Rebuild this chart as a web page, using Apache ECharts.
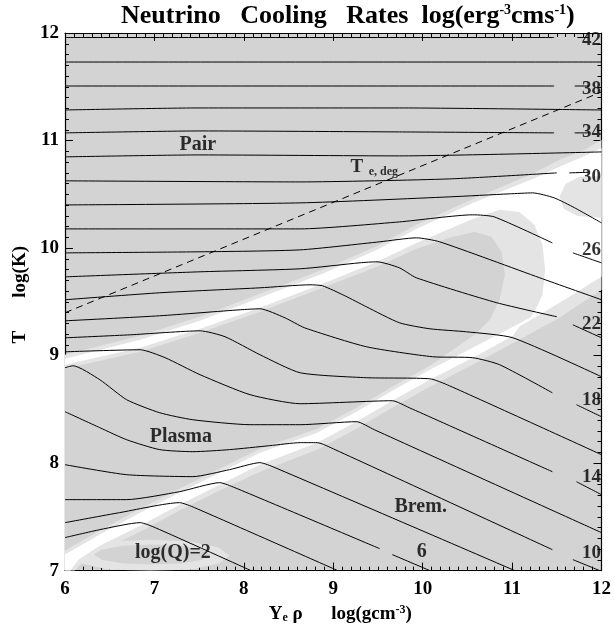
<!DOCTYPE html>
<html>
<head>
<meta charset="utf-8">
<script src="https://cdn.jsdelivr.net/npm/echarts@6/dist/echarts.min.js"></script>
<style>
html,body{margin:0;padding:0;background:#fff}
#chart{width:614px;height:629px}
</style>
</head>
<body>
<div id="chart"></div>
<script>
// Axis ranges: log(Ye*rho) and log(T)
const xRange = [6, 12];
const yRange = [7, 12];

// Contours of log(Q); null marks a break in the line (label gap)
const q42 = [[6,11.958],[11.47,11.958],null,[11.73,11.958],[11.86,11.958]];
const q40 = [[6,11.730],[12,11.730]];
const q38 = [[6,11.507],[11.47,11.507],null,[11.70,11.507],[11.86,11.507]];
const q36 = [[6,11.284],[7.51,11.303],[9.74,11.303],[12,11.284]];
const q34 = [[6,11.071],[7.51,11.089],[9.74,11.080],[11.47,11.071],null,[11.70,11.071],[11.86,11.071]];
const q32 = [[6,10.848],[7.51,10.866],[9.74,10.857],[12,10.894]];
const q30 = [[6,10.625],[8.63,10.615],[10.30,10.643],[11.50,10.699],null,[11.64,10.699],[11.86,10.705]];
const q28 = [[6,10.401],[8.63,10.420],[10.30,10.476],[10.97,10.504],[11.23,10.513],[11.47,10.467],[11.70,10.374],[12,10.234]];
const q26 = [[6,10.178],[8.63,10.178],[9.74,10.243],[10.56,10.309],[10.80,10.290],[11.45,10.048],null,[11.68,9.955],[12,9.862]];
const q24 = [[6,9.955],[7.51,9.965],[8.63,9.983],[9.52,10.058],[9.93,10.095],[10.19,10.058],[11.31,9.723],[12,9.519]];
const q22 = [[6,9.732],[7.51,9.779],[8.63,9.807],[9.30,9.863],[9.49,9.872],[9.74,9.816],[9.93,9.723],[10.83,9.491],[11.50,9.361],null,[11.68,9.286],[12,9.165]];
const q20 = [[6,9.519],[7.06,9.584],[8.18,9.630],[8.74,9.658],[8.88,9.649],[9.13,9.556],[9.37,9.454],[9.74,9.305],[10.08,9.249],[10.49,9.221],[11.01,9.165],[12,8.803]];
const q18 = [[6,9.323],[7.06,9.370],[7.96,9.426],[8.18,9.435],[8.46,9.351],[8.68,9.258],[9.37,9.082],[10.11,8.989],[10.56,8.980],[10.86,8.915],[11.45,8.654],null,[11.72,8.543],[12,8.431]];
const q16 = [[6,9.165],[6.73,9.193],[7.51,9.230],[7.79,9.175],[8.18,9.008],[8.63,8.840],[9.37,8.794],[10.08,8.784],[10.30,8.719],[12,8.078]];
const q14 = [[6,9.035],[6.84,9.054],[7.12,8.980],[7.51,8.822],[8.07,8.636],[8.63,8.552],[9.66,8.580],[9.85,8.515],[11.45,7.920],null,[11.72,7.827],[12,7.706]];
const q12 = [[6,8.887],[6.09,8.905],[6.39,8.775],[6.69,8.589],[7.06,8.468],[7.43,8.403],[8.07,8.357],[8.63,8.357],[9.26,8.385],[9.46,8.310],[12,7.353]];
const q10 = [[6,8.478],[6.39,8.329],[6.69,8.217],[7.06,8.125],[7.43,8.106],[7.84,8.125],[8.29,8.162],[8.63,8.190],[8.82,8.190],[9.02,8.125],[11.45,7.195],null,[11.68,7.102],[11.98,7.0]];
const q8  = [[6,7.985],[6.69,7.892],[7.43,7.874],[7.84,7.939],[8.18,8.004],[8.35,7.957],[11.03,7.0]];
const q6  = [[6,7.660],[6.69,7.660],[7.28,7.734],[7.73,7.818],[7.90,7.771],[9.52,7.204],null,[9.66,7.149],[10.08,7.0]];
const q4  = [[6,7.446],[6.61,7.539],[7.28,7.632],[7.45,7.585],[9.05,7.0]];
const q2  = [[6,7.307],[6.39,7.381],[6.84,7.446],[7.01,7.399],[8.08,7.0]];

// Electron degeneracy temperature
const tDeg = [[6,9.398],[12,11.452]];

// Shaded regions (process transition zones)
const haloOuter = [[6,9.007],[6.84,9.184],[7.51,9.361],[8.18,9.574],[8.88,9.797],[9.49,10.020],[9.93,10.216],[10.56,10.457],[11.23,10.690],[11.53,10.820],[11.81,10.913],[12,11.006],
  [12,9.612],[11.53,9.351],[11.08,9.147],[10.56,8.915],[10.08,8.710],[9.66,8.515],[9.26,8.320],[8.82,8.125],[8.18,7.920],[7.73,7.744],[7.28,7.558],[6.84,7.362],[6.39,7.177],[6.17,7.056],[6.11,7.0],[6,7.0]];
const cornerHalo = [[7.84,7.139],[7.72,7.214],[7.40,7.270],[6.95,7.288],[6.50,7.270],[6.18,7.214],[6.06,7.139],[6.18,7.065],[6.50,7.009],[6.95,7.0],[7.40,7.009],[7.72,7.065]];
const whiteBand = [[6,8.970],[6.84,9.147],[7.51,9.323],[8.18,9.537],[8.88,9.760],[9.49,9.983],[9.93,10.178],[10.56,10.420],[11.23,10.643],[11.53,10.755],[11.81,10.857],[12,10.931],
  [12,9.732],[11.53,9.491],[11.08,9.268],[11.01,9.184],[10.56,8.980],[10.08,8.775],[9.66,8.580],[9.26,8.385],[8.82,8.190],[8.18,7.985],[7.73,7.799],[7.28,7.613],[6.84,7.418],[6.39,7.232],[6.15,7.102],[6.06,7.0],[6,7.0]];
const cornerCore = [[7.62,7.149],[7.53,7.195],[7.30,7.232],[6.97,7.242],[6.65,7.232],[6.41,7.195],[6.32,7.149],[6.41,7.102],[6.65,7.065],[6.97,7.056],[7.30,7.065],[7.53,7.102]];
const plasmaHalo = [[6,8.914],[6.84,9.072],[7.51,9.249],[8.18,9.444],[8.88,9.667],[9.49,9.872],[9.93,10.048],[10.56,10.271],
  [10.86,10.355],[11.08,10.336],[11.25,10.216],[11.34,10.030],[11.37,9.797],[11.34,9.565],[11.25,9.407],[11.20,9.351],
  [11.01,9.268],[10.56,9.072],[10.08,8.868],[9.66,8.673],[9.26,8.478],[8.82,8.283],[8.18,8.097],[7.73,7.911],[7.28,7.725],[6.84,7.539],[6.39,7.335],[6,7.149]];
const plasmaCore = [[6,8.877],[6.84,9.035],[7.51,9.212],[8.18,9.407],[8.88,9.630],[9.49,9.825],[9.93,9.993],[10.30,10.095],[10.58,10.151],[10.77,10.104],[10.88,9.965],[10.92,9.751],[10.86,9.519],[10.75,9.333],[10.58,9.193],
  [10.08,8.905],[9.66,8.710],[9.26,8.515],[8.82,8.320],[8.18,8.134],[7.73,7.948],[7.28,7.762],[6.84,7.576],[6.39,7.372],[6,7.186]];
const pairHalo = [[12,10.671],[11.75,10.662],[11.60,10.597],[11.53,10.476],[11.58,10.364],[11.73,10.299],[12,10.281]];

// Text placed in the plot
const regionLabels = [[7.486,10.96,'Pair'],[7.296,8.245,'Plasma'],[9.978,7.595,'Brem.'],[7.207,7.167,'log(Q)=2'],[9.989,7.177,'6']];
const edgeLabels = [[12,11.935,'42'],[12,11.480,'38'],[12,11.080,'34'],[12,10.662,'30'],[12,9.983,'26'],[12,9.296,'22'],[12,8.589,'18'],[12,7.874,'14'],[12,7.167,'10']];
const degLabel = [[9.263,10.755,'T'],[9.56,10.705,'e, deg']];

const FONT = 'Liberation Serif';
const GRAY = '#d3d3d3', LIGHT = '#e4e4e4', WHITE = '#ffffff';

const contours = [q2,q4,q6,q8,q10,q12,q14,q16,q18,q20,q22,q24,q26,q28,q30,q32,q34,q36,q38,q40,q42];

function runsOf(pts){
  const runs = [[]];
  pts.forEach(p => { if (p === null) runs.push([]); else runs[runs.length-1].push(p); });
  return runs.filter(r => r.length > 1);
}

function region(pts, color){
  return {
    type:'custom', coordinateSystem:'cartesian2d', silent:true, z:1,
    data:[[9,9.5]],
    renderItem:(params, api) => ({
      type:'polygon',
      shape:{points: pts.map(p => api.coord(p))},
      style:{fill: color, stroke: null}
    })
  };
}

const series = [
  region(haloOuter, LIGHT),
  region(cornerHalo, LIGHT),
  region(whiteBand, WHITE),
  region(cornerCore, GRAY),
  region(plasmaHalo, LIGHT),
  region(plasmaCore, GRAY),
  region(pairHalo, LIGHT)
];

contours.forEach(c => runsOf(c).forEach(run => series.push({
  type:'line', data:run, symbol:'none', smooth:0.2, z:3, silent:true,
  lineStyle:{color:'#000', width:1}
})));

series.push({
  type:'line', data:tDeg, symbol:'none', z:3, silent:true,
  lineStyle:{color:'#000', width:1, type:[7,5]}
});

const textStyle = {fontFamily:FONT, fontWeight:'bold', color:'#000'};

series.push({
  type:'scatter', data:regionLabels, symbolSize:1, z:5, silent:true,
  itemStyle:{color:'rgba(0,0,0,0)'},
  label:{show:true, position:'inside', formatter:p => p.value[2], ...textStyle, fontSize:20}
});
series.push({
  type:'scatter', data:edgeLabels, symbolSize:1, z:5, silent:true,
  itemStyle:{color:'rgba(0,0,0,0)'},
  label:{show:true, position:'left', distance:0, formatter:p => p.value[2], ...textStyle, fontSize:19}
});
series.push({
  type:'scatter', data:degLabel, symbolSize:1, z:5, silent:true,
  itemStyle:{color:'rgba(0,0,0,0)'},
  label:{show:true, position:'inside', formatter:p => p.value[2] === 'T' ? '{t|T}' : '{s|' + p.value[2] + '}',
    rich:{t:{...textStyle, fontSize:19}, s:{...textStyle, fontSize:12}}}
});

const axisBase = {
  type:'value',
  axisLine:{show:true, onZero:false, lineStyle:{color:'#000', width:1.2}},
  axisTick:{show:true, inside:true, length:8, lineStyle:{color:'#000', width:1}},
  minorTick:{show:true, splitNumber:10, length:4, lineStyle:{color:'#000', width:1}},
  splitLine:{show:false},
  minorSplitLine:{show:false}
};
const tickFont = {...textStyle, fontSize:19};

const option = {
  animation:false,
  backgroundColor:'#fff',
  title:{
    text:'Neutrino   Cooling   Rates  log(erg{sup|-3}cms{sup|-1})',
    left:116, top:-2,
    textStyle:{...textStyle, fontSize:26,
      rich:{sup:{...textStyle, fontSize:14, padding:[0,0,11,0]}}}
  },
  grid:{left:65, right:12, top:33, bottom:58, show:true, backgroundColor:GRAY, borderWidth:0},
  xAxis:[
    {...axisBase, min:xRange[0], max:xRange[1], interval:1, position:'bottom',
      axisLabel:{...tickFont, margin:9},
      name:'Y{sub|e} ρ      log(gcm{sup|-3})', nameLocation:'middle', nameGap:26,
      nameTextStyle:{...textStyle, fontSize:19, padding:[0,0,0,14],
        rich:{sub:{...textStyle, fontSize:12, padding:[8,0,0,0]}, sup:{...textStyle, fontSize:12, padding:[0,0,9,0]}}}},
    {...axisBase, min:xRange[0], max:xRange[1], interval:1, position:'top', axisLabel:{show:false}}
  ],
  yAxis:[
    {...axisBase, min:yRange[0], max:yRange[1], interval:1, position:'left',
      axisLabel:{...tickFont, margin:6},
      name:'T       log(K)', nameLocation:'middle', nameGap:34, nameRotate:90,
      nameTextStyle:{...textStyle, fontSize:19, padding:[0,0,0,14]}},
    {...axisBase, min:yRange[0], max:yRange[1], interval:1, position:'right', axisLabel:{show:false}}
  ],
  series
};

const chart = echarts.init(document.getElementById('chart'));
chart.setOption(option);
</script>
</body>
</html>
